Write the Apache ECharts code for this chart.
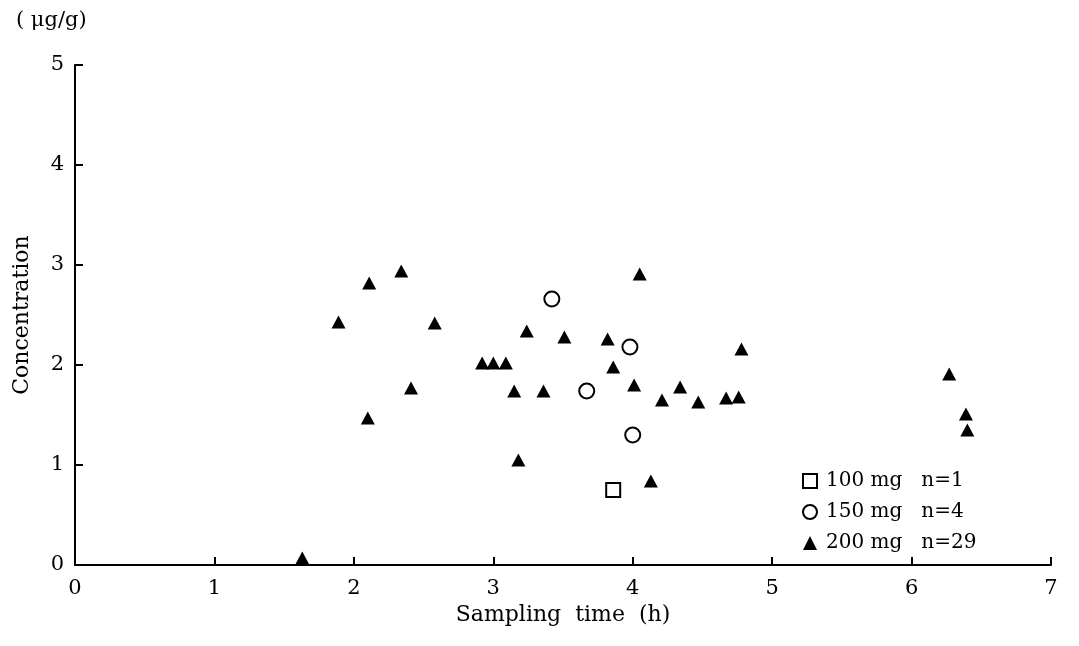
<!DOCTYPE html>
<html>
<head>
<meta charset="utf-8">
<script src="https://cdn.jsdelivr.net/npm/echarts@6/dist/echarts.min.js"></script>
<style>
  html, body { margin: 0; padding: 0; background: #fff; }
  #chart { width: 1079px; height: 646px; }
</style>
</head>
<body>
<div id="chart"></div>
<script>
// Concentration versus sampling time, grouped by dose
const xTicks = [0, 1, 2, 3, 4, 5, 6, 7];
const yTicks = [0, 1, 2, 3, 4, 5];

const dose100Name = '100 mg   n=1';
const dose150Name = '150 mg   n=4';
const dose200Name = '200 mg   n=29';

// [sampling time (h), concentration (µg/g)]
const dose100 = [[3.86, 0.75]];
const dose150 = [[3.42, 2.66], [3.67, 1.74], [3.98, 2.18], [4.00, 1.30]];
const dose200 = [
  [1.63, 0.07], [1.89, 2.43], [2.10, 1.47], [2.11, 2.82], [2.34, 2.94],
  [2.41, 1.77], [2.58, 2.42], [2.92, 2.02], [3.00, 2.02], [3.09, 2.02],
  [3.15, 1.74], [3.18, 1.05], [3.24, 2.34], [3.36, 1.74], [3.51, 2.28],
  [3.82, 2.26], [3.86, 1.98], [4.01, 1.80], [4.05, 2.91], [4.13, 0.84],
  [4.21, 1.65], [4.34, 1.78], [4.47, 1.63], [4.67, 1.67], [4.76, 1.68],
  [4.78, 2.16], [6.27, 1.91], [6.39, 1.51], [6.40, 1.35]
];

const FONT = '"DejaVu Serif", "Liberation Serif", serif';
const INK = '#000';

const chart = echarts.init(document.getElementById('chart'), null, { renderer: 'canvas' });

const axisCommon = {
  axisLine: { show: true, onZero: false, lineStyle: { color: INK, width: 2 } },
  axisTick: { show: true, inside: true, length: 8, lineStyle: { color: INK, width: 2 } },
  splitLine: { show: false },
  axisLabel: { color: INK, fontFamily: FONT, fontSize: 21 }
};

chart.setOption({
  animation: false,
  backgroundColor: '#fff',
  textStyle: { fontFamily: FONT, color: INK },
  grid: { left: 75, right: 28, top: 65, bottom: 81, containLabel: false, outerBoundsMode: 'none' },
  graphic: [{
    type: 'text',
    left: 16,
    top: 10,
    style: { text: '( \u03bcg/g)', font: '21px ' + FONT, fill: INK }
  }],
  xAxis: Object.assign({}, axisCommon, {
    type: 'value',
    min: xTicks[0],
    max: xTicks[xTicks.length - 1],
    interval: 1,
    name: 'Sampling  time  (h)',
    nameLocation: 'middle',
    nameGap: 35,
    nameTextStyle: { color: INK, fontFamily: FONT, fontSize: 22 },
    axisLabel: Object.assign({}, axisCommon.axisLabel, { margin: 13 })
  }),
  yAxis: Object.assign({}, axisCommon, {
    type: 'value',
    min: yTicks[0],
    max: yTicks[yTicks.length - 1],
    interval: 1,
    name: 'Concentration',
    nameLocation: 'middle',
    nameGap: 42,
    nameRotate: 90,
    nameTextStyle: { color: INK, fontFamily: FONT, fontSize: 22 },
    axisLabel: Object.assign({}, axisCommon.axisLabel, { margin: 11 })
  }),
  legend: {
    orient: 'vertical',
    left: 797,
    top: 466,
    itemGap: 11,
    itemWidth: 14,
    itemHeight: 14,
    textStyle: { color: INK, fontFamily: FONT, fontSize: 20, padding: [0, 0, 0, 4] },
    data: [
      { name: dose100Name, icon: 'rect', itemStyle: { color: '#fff', borderColor: INK, borderWidth: 2 } },
      { name: dose150Name, icon: 'circle', itemStyle: { color: '#fff', borderColor: INK, borderWidth: 2 } },
      { name: dose200Name, icon: 'triangle', itemStyle: { color: INK } }
    ]
  },
  series: [
    {
      name: dose100Name,
      type: 'scatter',
      data: dose100,
      symbol: 'rect',
      symbolSize: 14,
      itemStyle: { color: '#fff', borderColor: INK, borderWidth: 2, opacity: 1 },
      emphasis: { disabled: true }
    },
    {
      name: dose150Name,
      type: 'scatter',
      data: dose150,
      symbol: 'circle',
      symbolSize: 15,
      itemStyle: { color: '#fff', borderColor: INK, borderWidth: 2, opacity: 1 },
      emphasis: { disabled: true }
    },
    {
      name: dose200Name,
      type: 'scatter',
      data: dose200,
      symbol: 'triangle',
      symbolSize: [14, 13],
      itemStyle: { color: INK, opacity: 1 },
      emphasis: { disabled: true }
    }
  ]
});
</script>
</body>
</html>
